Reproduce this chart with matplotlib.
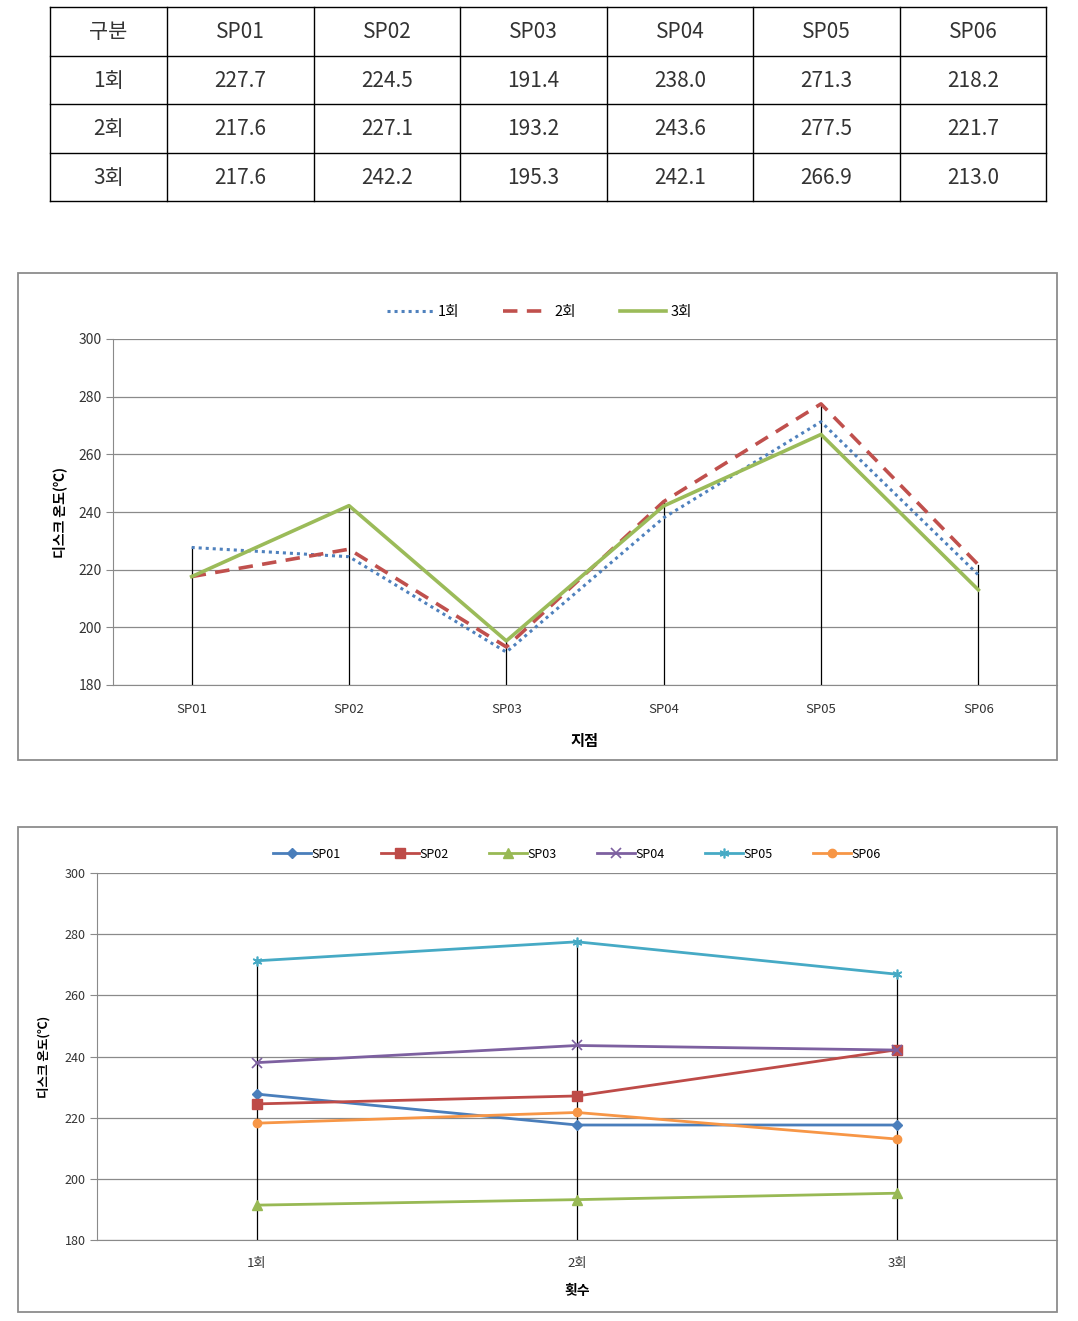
import matplotlib
matplotlib.use("Agg")
import matplotlib.pyplot as plt
from matplotlib.patches import Rectangle
from matplotlib.lines import Line2D

plt.rcParams['font.family'] = ['Noto Sans CJK KR', 'DejaVu Sans']

# ---- data ----
sites = ["SP01", "SP02", "SP03", "SP04", "SP05", "SP06"]
runs = ["1회", "2회", "3회"]
run1 = [227.7, 224.5, 191.4, 238.0, 271.3, 218.2]
run2 = [217.6, 227.1, 193.2, 243.6, 277.5, 221.7]
run3 = [217.6, 242.2, 195.3, 242.1, 266.9, 213.0]
header_first = "구분"
yticks = [180, 200, 220, 240, 260, 280, 300]
ylabel = "디스크 온도(℃)"
xlabel1 = "지점"
xlabel2 = "횟수"

W, H = 1078, 1321
fig = plt.figure(figsize=(W / 100, H / 100), dpi=100)
fig.patch.set_facecolor("white")


def fx(px):
    return px / W


def fy(py):
    return 1 - py / H


# ---- table ----
tax = fig.add_axes([fx(50), fy(201), fx(1046 - 50), (201 - 7) / H])
tax.set_xlim(0, 1)
tax.set_ylim(0, 1)
tax.axis("off")
col_edges_px = [50, 167, 314, 460, 607, 753, 900, 1046]
col_edges = [(c - 50) / (1046 - 50) for c in col_edges_px]
rows = [[header_first] + sites]
for r, vals in zip(runs, [run1, run2, run3]):
    rows.append([r] + [f"{v:.1f}" for v in vals])
nrows = len(rows)
for i, row in enumerate(rows):
    y0 = 1 - (i + 1) / nrows
    y1 = 1 - i / nrows
    for j, txt in enumerate(row):
        tax.text((col_edges[j] + col_edges[j + 1]) / 2, (y0 + y1) / 2 - 0.005, txt,
                 ha="center", va="center", fontsize=15, color="#333333",
                 fontweight="light")
for c in col_edges:
    tax.add_line(Line2D([c, c], [0, 1], color="black", lw=1.0, clip_on=False))
for i in range(nrows + 1):
    tax.add_line(Line2D([0, 1], [i / nrows, i / nrows], color="black", lw=1.0, clip_on=False))

# ---- frames ----
for (x0, y0, x1, y1) in [(18, 273, 1057, 760), (18, 827, 1057, 1312)]:
    fig.patches.append(Rectangle((fx(x0), fy(y1)), fx(x1 - x0), (y1 - y0) / H,
                                 transform=fig.transFigure, fill=False,
                                 edgecolor="#8c8c8c", lw=1.3))

grid_col = "#8a8a8a"


def style_axes(ax):
    ax.set_ylim(180, 300)
    ax.set_yticks(yticks)
    ax.yaxis.grid(True, color=grid_col, lw=0.9)
    ax.set_axisbelow(True)
    for s in ["top", "right"]:
        ax.spines[s].set_visible(False)
    ax.spines["left"].set_color(grid_col)
    ax.spines["bottom"].set_color(grid_col)
    ax.tick_params(axis="y", length=5, color=grid_col, labelsize=10, labelcolor="#333333", pad=3)
    ax.tick_params(axis="x", length=0, labelsize=9.5, labelcolor="#333333")


# ---- chart 1 ----
ax1 = fig.add_axes([fx(113), fy(685), fx(1057 - 113), (685 - 339) / H])
style_axes(ax1)
x1 = list(range(len(sites)))
ax1.set_xlim(-0.5, len(sites) - 0.5)
ax1.set_xticks(x1)
ax1.set_xticklabels(sites)
ax1.tick_params(axis="x", pad=13)
for i in x1:
    top = max(run1[i], run2[i], run3[i])
    ax1.plot([i, i], [180, top], color="black", lw=0.9, zorder=2)
l1, = ax1.plot(x1, run1, color="#4F81BD", lw=2.2, ls=(0, (1, 1.3)), label="1회", zorder=3)
l2, = ax1.plot(x1, run2, color="#C0504D", lw=2.6, ls=(0, (4, 2.6)), label="2회", zorder=3)
l3, = ax1.plot(x1, run3, color="#9BBB59", lw=2.6, label="3회", zorder=3)
ax1.set_xlabel(xlabel1, fontsize=11, fontweight="bold", labelpad=12)
ax1.set_ylabel(ylabel, fontsize=10, fontweight="bold", labelpad=8)
ax1.legend(handles=[l1, l2, l3], loc="upper center", bbox_to_anchor=(0.452, 1.135),
           ncol=3, frameon=False, fontsize=10.5, handlelength=3.2, columnspacing=3.0,
           handletextpad=0.3)

# ---- chart 2 ----
ax2 = fig.add_axes([fx(97), fy(1240), fx(1057 - 97), (1240 - 873) / H])
style_axes(ax2)
x2 = list(range(len(runs)))
ax2.set_xlim(-0.5, len(runs) - 0.5)
ax2.set_xticks(x2)
ax2.set_xticklabels(runs)
ax2.tick_params(axis="x", pad=12)
ax2.tick_params(axis="y", labelsize=9)
series_by_site = [[run1[k], run2[k], run3[k]] for k in range(len(sites))]
for i in x2:
    top = max(s[i] for s in series_by_site)
    ax2.plot([i, i], [180, top], color="black", lw=0.9, zorder=2)
colors = ["#4A7EBB", "#BE4B48", "#98B954", "#7D60A0", "#46AAC5", "#F79646"]
markers = ["D", "s", "^", "x", "*", "o"]
msizes = [5, 7, 7, 7, 7, 6]
handles = []
for k, name in enumerate(sites):
    mk = markers[k]
    kw = dict(marker=mk, markersize=msizes[k], color=colors[k], lw=2.0, label=name, zorder=3)
    if mk in ("x", "*"):
        kw.update(markerfacecolor="none", markeredgewidth=1.2)
        if mk == "*":
            kw.update(marker=(6, 2, 0))
    h, = ax2.plot(x2, series_by_site[k], **kw)
    handles.append(h)
ax2.set_xlabel(xlabel2, fontsize=10, fontweight="bold", labelpad=10)
ax2.set_ylabel(ylabel, fontsize=9, fontweight="bold", labelpad=10)
ax2.legend(handles=handles, loc="upper center", bbox_to_anchor=(0.5, 1.1),
           ncol=6, frameon=False, fontsize=9, handlelength=3.0, columnspacing=3.2,
           handletextpad=0.1)

fig.savefig("out.png", dpi=100)
